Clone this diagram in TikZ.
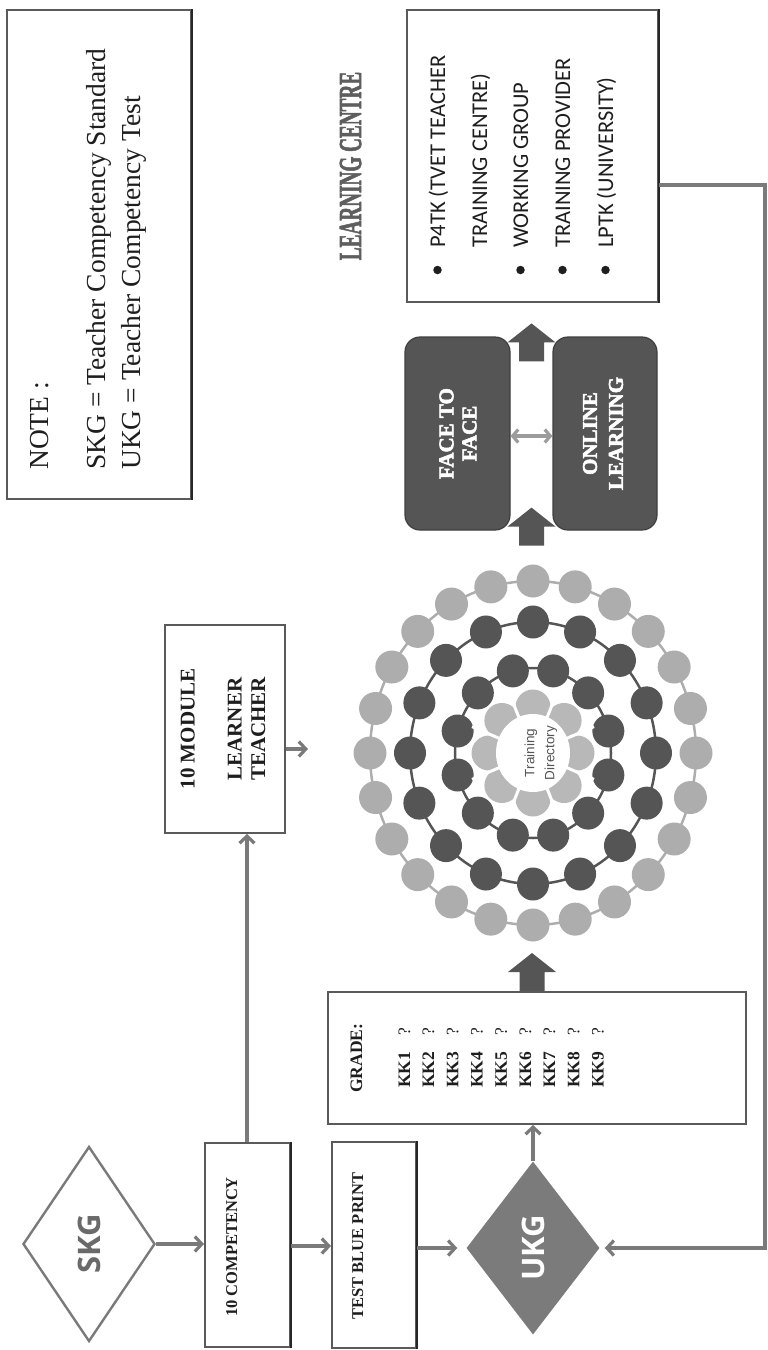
\documentclass[tikz,border=0pt]{standalone}
\usepackage{fontspec}
\usepackage{graphicx}
\setmainfont{Liberation Serif}
\newfontfamily\headsans{Open Sans}
\newfontfamily\listsans{Carlito}
\newfontfamily\smallsans{Liberation Sans}
\newfontfamily\heavyserif{Liberation Serif}[BoldFeatures={FakeBold=2.5}]
\usetikzlibrary{shapes.geometric,arrows.meta,calc}
\newcommand\pxsize[2]{\fontsize{#1}{#2}\selectfont}

\definecolor{boxline}{HTML}{5A5A5A}
\definecolor{arrowgray}{HTML}{7A7A7A}
\definecolor{darkfill}{HTML}{555555}
\definecolor{darkline}{HTML}{3F3F3F}
\definecolor{lightdot}{HTML}{ADADAD}
\definecolor{innerdot}{HTML}{B8B8B8}
\definecolor{ukgfill}{HTML}{7B7B7B}
\definecolor{skgtext}{HTML}{6A6A6A}
\definecolor{lcgray}{HTML}{5E5E5E}
\definecolor{twoway}{HTML}{9C9C9C}
\definecolor{inktext}{HTML}{1E1E1E}

\tikzset{
  blockarrow/.pic={
    \fill[darkfill] (-12.5,0) -- (-12.5,-19) -- (-24,-19) -- (0,-38)
      -- (24,-19) -- (12.5,-19) -- (12.5,0) -- cycle;
  }
}

\begin{document}
\begin{tikzpicture}[x=1pt,y=-1pt,
  box/.style={draw=boxline, line width=2pt, fill=white, inner sep=0pt},
  darkbox/.style={draw=darkline, line width=1.2pt, fill=darkfill,
    rounded corners=15pt, inner sep=0pt},
  rot/.style={rotate=90, inner sep=0pt, text=inktext},
  arr/.style={draw=arrowgray, line width=3.2pt,
    -{Straight Barb[length=7pt,width=15pt]}},
  dbl/.style={draw=twoway, line width=3.2pt,
    {Straight Barb[length=5.5pt,width=13pt]}-{Straight Barb[length=5.5pt,width=13pt]}},
  rightedge/.style={draw=black!85, line width=2.6pt},
  dotL/.style={fill=lightdot},
  dotD/.style={fill=darkfill},
  kkfont/.style={font=\bfseries\pxsize{17.5}{17.5}},
]
\useasboundingbox (0,0) rectangle (768,1350);

% ---------- legend ----------
\node[box, minimum width=184pt, minimum height=489pt] (note) at (99,254.5) {};
\node[rot, anchor=base west, font=\pxsize{27.5}{33}] (noteA) at (48,470) {NOTE :};
\node[rot, anchor=base west, font=\pxsize{27.5}{33}] (noteB) at (105,470)
  {SKG = Teacher Competency Standard};
\node[rot, anchor=base west, font=\pxsize{27.5}{33}] (noteC) at (140,470)
  {UKG = Teacher Competency Test};

% ---------- learning centre ----------
\node[rot, anchor=base, font=\heavyserif\bfseries\pxsize{32}{32}, text=lcgray] (lcT) at (361,166)
  {\scalebox{0.6}[1]{LEARNING CENTRE}};
\node[box, minimum width=251pt, minimum height=292pt] (lc) at (532.5,156) {};
\node[rot, anchor=base west, font=\listsans\pxsize{22.5}{22.5}] (lc1) at (445,248) {P4TK (TVET TEACHER};
\node[rot, anchor=base west, font=\listsans\pxsize{22.5}{22.5}] (lc1b) at (487,248) {TRAINING CENTRE)};
\node[rot, anchor=base west, font=\listsans\pxsize{22.5}{22.5}] (lc2) at (528,248) {WORKING GROUP};
\node[rot, anchor=base west, font=\listsans\pxsize{22.5}{22.5}] (lc3) at (570,248) {TRAINING PROVIDER};
\node[rot, anchor=base west, font=\listsans\pxsize{22.5}{22.5}] (lc4) at (613,248) {LPTK (UNIVERSITY)};
\foreach \k/\xx in {1/437.5, 2/520.5, 3/562.5, 4/605.5}
  \node[circle, fill=inktext, inner sep=0pt, minimum size=8.5pt] (bul\k) at (\xx,270) {};

% ---------- delivery modes ----------
\node[darkbox, minimum width=105pt, minimum height=193pt] (f2f) at (457.5,433.5) {};
\node[rot, align=center, text=white, font=\heavyserif\bfseries\pxsize{21}{23}] (f2fT) at (458,433.5)
  {FACE TO\\FACE};
\node[darkbox, minimum width=104pt, minimum height=193pt] (online) at (605,433.5) {};
\node[rot, align=center, text=white, font=\heavyserif\bfseries\pxsize{21}{26}] (onlineT) at (603,433.5)
  {ONLINE\\LEARNING};
\draw[dbl] (f2f.east |- 0,436) -- (online.west |- 0,436);
\pic at ($(f2f.south east)!0.5!(online.south west)+(0,15)$) {blockarrow};
\pic at ($(f2f.north east)!0.5!(online.north west)+(0,25)$) {blockarrow};

% ---------- training network ----------
\node[circle, inner sep=0pt, minimum size=370pt] (net) at (533,753) {};
\begin{scope}[shift={(net.center)}]
  \draw[lightdot, line width=2.5pt] (0,0) ellipse (163 and 172);
  \foreach \a in {0,15,...,345}
    \fill[dotL] (\a:163 and 172) ellipse (16.5 and 16.5);
  \draw[darkfill, line width=2.5pt] (0,0) ellipse (123 and 131);
  \foreach \a in {0,22.5,...,337.5}
    \fill[dotD] (\a:123 and 131) ellipse (16 and 16.5);
  \draw[darkfill, line width=2.5pt] (0,0) ellipse (78 and 85);
  \foreach \a in {15,45,...,345}
    \fill[dotD] (\a:78 and 85) ellipse (16 and 16.5);
  % inner ring of rounded pieces round the centre
  \foreach \a in {0,45,...,315}
    \fill[innerdot] (\a:44 and 46) circle (17.5);
  \foreach \a in {22.5,67.5,...,337.5}
    \draw[white, line width=3pt] (0,0) -- (\a:66 and 69);
  \fill[white] (0,0) ellipse (37 and 39);
\end{scope}
\node[rot, align=center, text=darkfill, font=\smallsans\pxsize{13.5}{20}] (netT) at (541,753)
  {Training\\Directory};

% ---------- module ----------
\node[box, minimum width=120pt, minimum height=208pt] (module) at (225,729) {};
\node[rot, align=center, font=\bfseries\pxsize{21}{23.5}] (moduleT) at (223,729)
  {10 MODULE\\[23.5pt]LEARNER\\TEACHER};
\coordinate (netIn) at (308,749);
\draw[arr] (module.east |- netIn) -- (netIn);

% ---------- grade ----------
\node[box, minimum width=418pt, minimum height=132pt] (grade) at (537,1058) {};
\node[rot, anchor=base west, kkfont] (gradeT) at (362,1093) {GRADE:};
\foreach \i in {1,...,9}
  \node[rot, anchor=base west, kkfont] (kk\i) at ({410+24.2*(\i-1)},1088)
    {KK\i\hspace{16pt}{\mdseries ?}};
\pic at (532,0 |- grade.north) {blockarrow};

% ---------- bottom row ----------
\node[diamond, draw=arrowgray, line width=2.4pt, rotate=90, inner sep=0pt,
  minimum width=195pt, minimum height=132pt, text=skgtext,
  font=\headsans\bfseries\pxsize{31}{31}] (skg) at (89,1244) {SKG};
\node[box, minimum width=85pt, minimum height=204pt] (comp) at (247.5,1245) {};
\node[rot, anchor=base, font=\bfseries\pxsize{16.5}{16.5}] (compT) at (237,1247) {10 COMPETENCY};
\node[box, minimum width=84pt, minimum height=206pt] (tbp) at (374,1245) {};
\node[rot, anchor=base, font=\bfseries\pxsize{16.5}{16.5}] (tbpT) at (363,1246) {TEST BLUE PRINT};
\node[diamond, fill=ukgfill, rotate=90, inner sep=0pt,
  minimum width=173pt, minimum height=133pt, text=white,
  font=\headsans\bfseries\pxsize{31}{31}] (ukg) at (533,1248) {UKG};

\foreach \b in {note,comp,tbp,lc}
  \draw[rightedge] (\b.north east) -- (\b.south east);

% ---------- connectors ----------
\draw[arr] (skg.south) -- (comp.west |- skg.south);
\draw[arr] (comp.east |- 0,1246) -- (tbp.west |- 0,1246);
\draw[arr, shorten >=9pt] (tbp.east |- ukg.north) -- (ukg.north);
\draw[arr] (ukg.east) -- (ukg.east |- grade.south);
\draw[arr] (247,0 |- comp.north) -- (247,0 |- module.south);
\coordinate (rtop) at (765,185);
\coordinate (rbot) at (765,1248);
\draw[arr, shorten >=5pt] (lc.east |- rtop) -- (rtop) -- (rbot) -- (ukg.south);
\end{tikzpicture}
\end{document}
